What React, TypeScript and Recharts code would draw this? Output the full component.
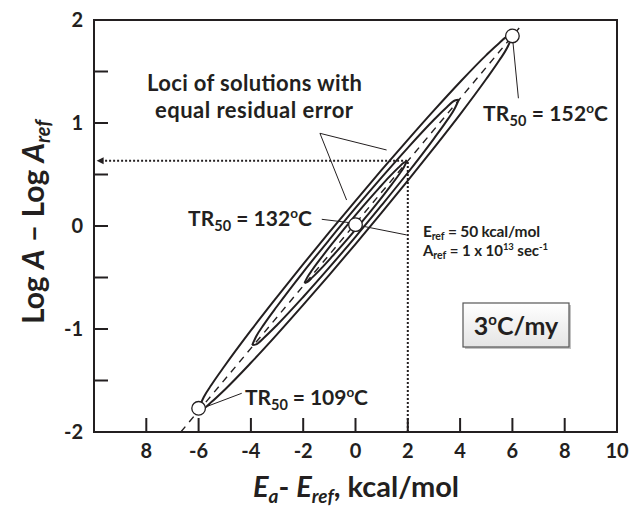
import { ComposedChart, XAxis, YAxis, Line, Scatter, ReferenceArea, ReferenceDot } from 'recharts';

const INK = '#231f20';
const FONT = 'Lato, "Open Sans", sans-serif';

// axis ticks
const xTicks = [-8, -6, -4, -2, 0, 2, 4, 6, 8, 10];
const xTickLabels = ['8', '-6', '-4', '-2', '0', '2', '4', '6', '8', '10'];
const yTicks = [-2, -1.5, -1, -0.5, 0, 0.5, 1, 1.5, 2];
const yTickLabels = ['-2', '', '-1', '', '0', '', '1', '', '2'];

// outer locus (upper / lower edge)
const outerX = [-6, -5.8, -5.5, -5, -4, -3, -2, -1, 0, 1, 2, 3, 4, 5, 5.5, 5.8, 6];
const outerUp = [-1.774, -1.66, -1.539, -1.357, -1.014, -0.688, -0.37, -0.06, 0.245, 0.544, 0.836, 1.122, 1.398, 1.659, 1.777, 1.838, 1.844];
const outerLo = [-1.774, -1.768, -1.707, -1.589, -1.328, -1.052, -0.766, -0.474, -0.175, 0.13, 0.44, 0.758, 1.084, 1.427, 1.609, 1.73, 1.844];

// middle locus
const midX = [-3.95, -3.8, -3.5, -3, -2, -1, 0, 1, 2, 3, 3.5, 3.8, 3.95];
const midUp = [-1.156, -1.073, -0.955, -0.779, -0.447, -0.132, 0.175, 0.472, 0.759, 1.031, 1.155, 1.219, 1.226];
const midLo = [-1.156, -1.149, -1.085, -0.961, -0.689, -0.402, -0.105, 0.202, 0.517, 0.849, 1.025, 1.143, 1.226];

// inner locus
const innerX = [-1.95, -1.85, -1.65, -1.3, -0.9, -0.45, 0, 0.45, 0.9, 1.3, 1.65, 1.85, 1.95];
const innerUp = [-0.553, -0.501, -0.425, -0.305, -0.174, -0.033, 0.105, 0.239, 0.368, 0.479, 0.569, 0.615, 0.623];
const innerLo = [-0.553, -0.545, -0.499, -0.409, -0.298, -0.169, -0.035, 0.103, 0.244, 0.375, 0.495, 0.571, 0.623];

// best-fit line through the loci
const fitX = [-6.68, 6.4];
const fitY = [-2, 1.965];

// TR50 points
const pointX = [-6, 0, 6];
const pointY = [-1.77, 0.013, 1.845];
const trTemps = ['109', '132', '152'];

// dotted read-off lines
const readX = [2.0, 2.0, -9.8];
const readY = [-2, 0.634, 0.634];

// leader lines [x1, y1, x2, y2]
const leaders = [
  [-1.36, 0.9, 1.19, 0.738],
  [-1.36, 0.9, -0.34, 0.252],
  [-1.29, 0.065, -0.21, 0.032],
  [0.24, 0.0, 1.96, -0.087],
  [6.02, 1.786, 6.23, 1.24],
  [-5.64, -1.748, -4.35, -1.624],
];

const zip = (xs: number[], ys: number[]) => xs.map((x, i) => ({ x, y: ys[i] }));

const XTick = (props: any) => {
  const { x, y, payload } = props;
  const i = xTicks.indexOf(payload.value);
  return (
    <g>
      <line x1={x} y1={y} x2={x} y2={y - 14} stroke={INK} strokeWidth={2} />
      <text x={x} y={y + 26} textAnchor="middle" fontSize={20} fontWeight="bold" fill={INK} fontFamily={FONT}>
        {xTickLabels[i]}
      </text>
    </g>
  );
};

const YTick = (props: any) => {
  const { x, y, payload } = props;
  const i = yTicks.indexOf(payload.value);
  return (
    <g>
      <line x1={x} y1={y} x2={x + 14} y2={y} stroke={INK} strokeWidth={2} />
      <text x={x - 11} y={y} dy="0.36em" textAnchor="end" fontSize={20} fontWeight="bold" fill={INK} fontFamily={FONT}>
        {yTickLabels[i]}
      </text>
    </g>
  );
};

const Arrow = (props: any) => {
  const { cx, cy } = props;
  return <path d={`M${cx},${cy} L${cx + 7},${cy - 3.5} L${cx + 7},${cy + 3.5} Z`} fill={INK} />;
};

const Ring = (props: any) => {
  const { cx, cy } = props;
  return <circle cx={cx} cy={cy} r={6.8} fill="#fff" stroke={INK} strokeWidth={1.3} />;
};

const TrLabel = ({ x, y, temp, len }: { x: number; y: number; temp: string; len: number }) => (
  <text x={x} y={y} fontSize={21} fontWeight="bold" fill={INK} fontFamily={FONT} textLength={len} lengthAdjust="spacing">
    TR<tspan fontSize={14.5} dy={5}>50</tspan>
    <tspan dy={-5}> = {temp}</tspan>
    <tspan fontSize={13.5} dy={-8}>o</tspan>
    <tspan dy={8}>C</tspan>
  </text>
);

const edge = (pts: { x: number; y: number }[], key: string) => (
  <Line key={key} data={pts} dataKey="y" type="monotone" stroke={INK} strokeWidth={2} dot={false} activeDot={false} isAnimationActive={false} />
);

export default function App() {
  return (
    <div style={{ position: 'relative', width: 632, height: 509 }}>
      <style>{'body{margin:0}'}</style>
      <ComposedChart width={632} height={509} margin={{ top: 20, right: 15, bottom: 0, left: 0 }}>
        <XAxis type="number" dataKey="x" domain={[-10, 10]} ticks={xTicks} interval={0} allowDataOverflow
          axisLine={false} tickLine={false} tickSize={0} tickMargin={0} height={77} tick={<XTick />} />
        <YAxis type="number" dataKey="y" domain={[-2, 2]} ticks={yTicks} interval={0} allowDataOverflow
          axisLine={false} tickLine={false} tickSize={0} tickMargin={0} width={94} tick={<YTick />} />
        <ReferenceArea x1={-10} x2={10} y1={-2} y2={2} fill="none" stroke={INK} strokeWidth={2} />
        <Line data={zip(fitX, fitY)} dataKey="y" type="linear" stroke={INK} strokeWidth={1.4} strokeDasharray="7 6"
          dot={false} activeDot={false} isAnimationActive={false} />
        <Line data={zip(readX, readY)} dataKey="y" type="linear" stroke={INK} strokeWidth={2} strokeDasharray="2 2"
          dot={false} activeDot={false} isAnimationActive={false} />
        <ReferenceDot x={readX[2] - 0.1} y={readY[2]} shape={<Arrow />} />
        {edge(zip(outerX, outerUp), 'ou')}
        {edge(zip(outerX, outerLo), 'ol')}
        {edge(zip(midX, midUp), 'mu')}
        {edge(zip(midX, midLo), 'ml')}
        {edge(zip(innerX, innerUp), 'iu')}
        {edge(zip(innerX, innerLo), 'il')}
        {leaders.map((s, i) => (
          <Line key={'ld' + i} data={[{ x: s[0], y: s[1] }, { x: s[2], y: s[3] }]} dataKey="y" type="linear"
            stroke={INK} strokeWidth={1} dot={false} activeDot={false} isAnimationActive={false} />
        ))}
        <Scatter data={zip(pointX, pointY)} shape={<Ring />} isAnimationActive={false} />
      </ComposedChart>
      <svg width={632} height={509} style={{ position: 'absolute', left: 0, top: 0, pointerEvents: 'none' }}>
        <defs>
          <linearGradient id="boxfill" x1="0" y1="0" x2="0" y2="1">
            <stop offset="0" stopColor="#ffffff" />
            <stop offset="1" stopColor="#e4e4e4" />
          </linearGradient>
        </defs>
        <g fontFamily={FONT} fontWeight="bold" fill={INK}>
          <text x={147} y={91} fontSize={22} textLength={215} lengthAdjust="spacing">Loci of solutions with</text>
          <text x={155} y={118} fontSize={22} textLength={198} lengthAdjust="spacing">equal residual error</text>
          <TrLabel x={483} y={121} temp={trTemps[2]} len={125} />
          <TrLabel x={188} y={226} temp={trTemps[1]} len={124} />
          <TrLabel x={245} y={405} temp={trTemps[0]} len={123} />
          <text x={423} y={237} fontSize={15.5} textLength={117} lengthAdjust="spacing">
            E<tspan fontSize={10.5} dy={3}>ref</tspan><tspan dy={-3}> = 50 kcal/mol</tspan>
          </text>
          <text x={423} y={256} fontSize={15} textLength={125} lengthAdjust="spacing">
            A<tspan fontSize={10.5} dy={3}>ref</tspan><tspan dy={-3}> = 1 x 10</tspan>
            <tspan fontSize={9.5} dy={-6}>13</tspan><tspan dy={6}> sec</tspan>
            <tspan fontSize={9.5} dy={-6}>-1</tspan>
          </text>
          <rect x={465} y={305} width={106} height={44} fill="#9a9a9a" opacity={0.6} />
          <rect x={463} y={303} width={106} height={44} fill="url(#boxfill)" stroke="#555" strokeWidth={1.2} />
          <text x={516} y={335} fontSize={25} textAnchor="middle">
            3<tspan fontSize={15} dy={-10}>o</tspan><tspan dy={10}>C/my</tspan>
          </text>
          <text transform="translate(44,222) rotate(-90)" x={0} y={0} fontSize={30} textAnchor="middle">
            Log <tspan fontStyle="italic">A</tspan> – Log <tspan fontStyle="italic">A</tspan>
            <tspan fontStyle="italic" fontSize={20} dy={6}>ref</tspan>
          </text>
          <text x={356} y={497} fontSize={29} textAnchor="middle">
            <tspan fontStyle="italic">E</tspan><tspan fontStyle="italic" fontSize={19} dy={6}>a</tspan>
            <tspan dy={-6}>- </tspan><tspan fontStyle="italic">E</tspan>
            <tspan fontStyle="italic" fontSize={19} dy={6}>ref</tspan><tspan dy={-6}>, kcal/mol</tspan>
          </text>
        </g>
      </svg>
    </div>
  );
}
